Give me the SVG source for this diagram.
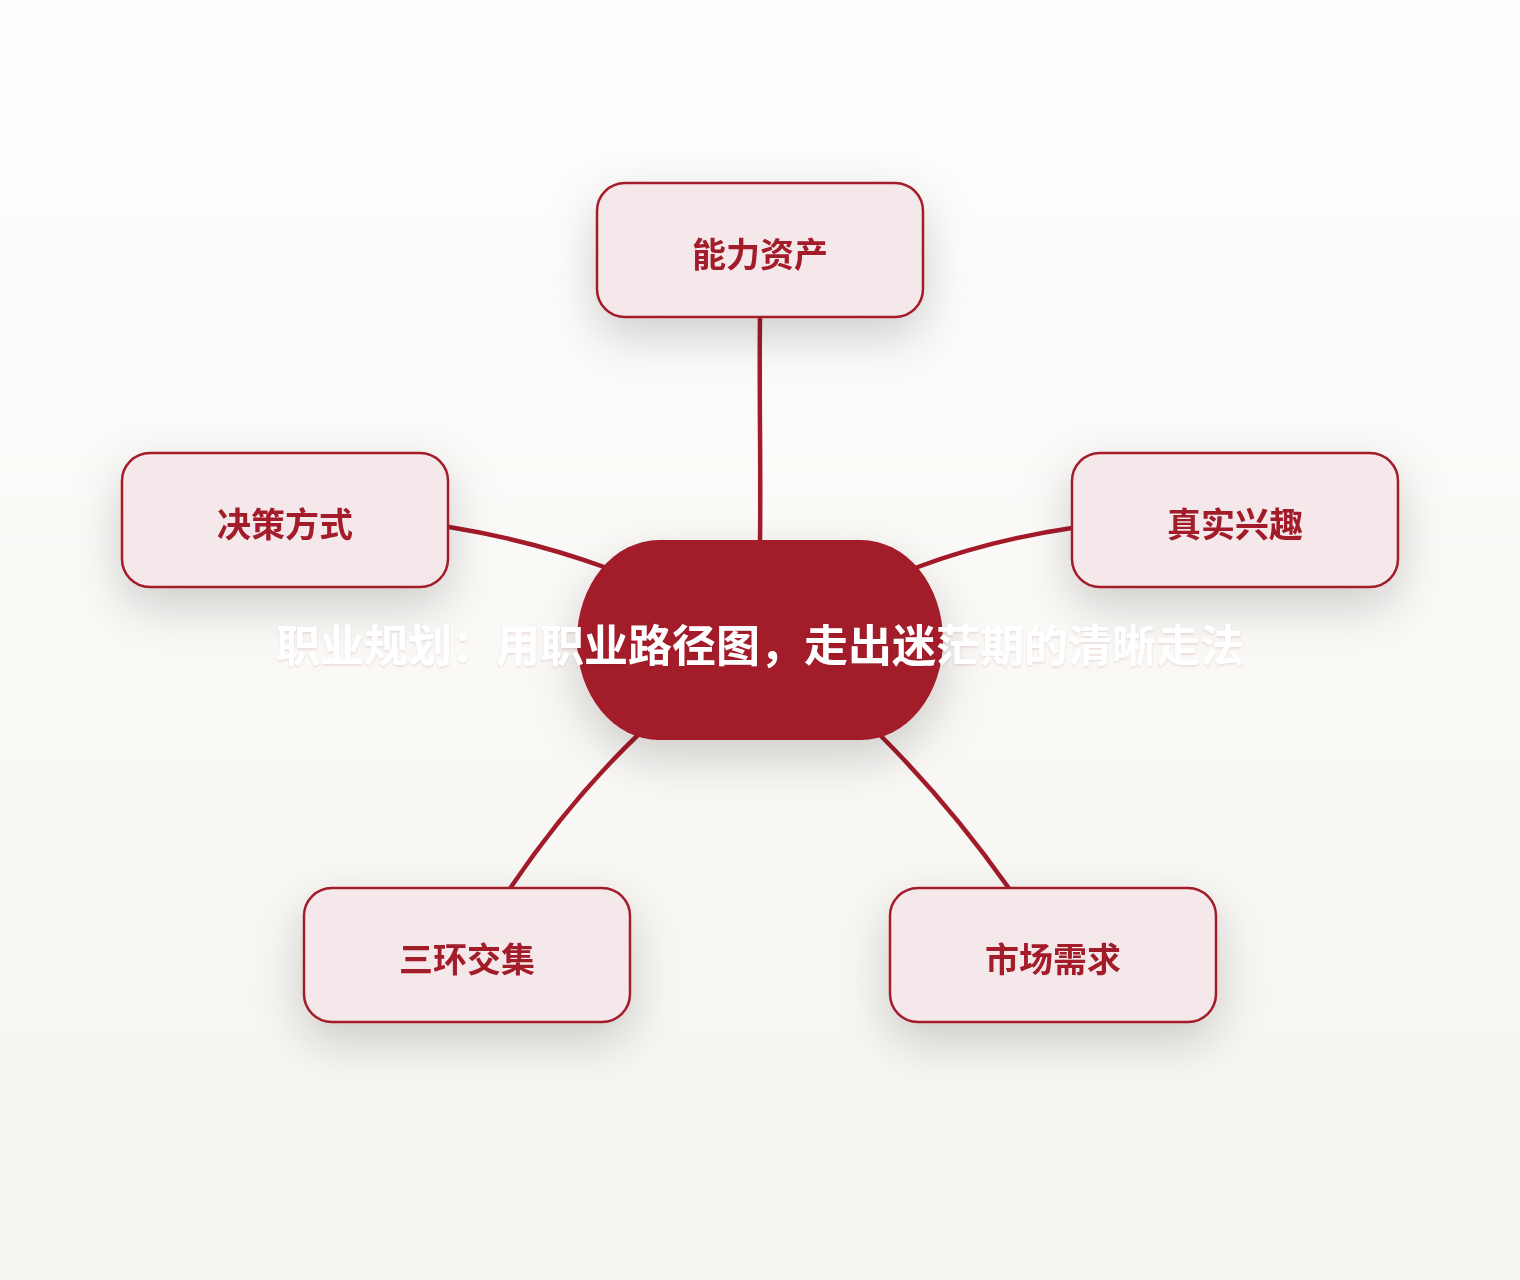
<svg xmlns="http://www.w3.org/2000/svg" width="1520" height="1280" viewBox="0 0 1520 1280">
  <defs>
    <linearGradient id="bg" x1="0" y1="0" x2="0" y2="1">
      <stop offset="0" stop-color="#FEFEFD"/>
      <stop offset="1" stop-color="#F6F4F0"/>
    </linearGradient>
    <filter id="shadow" x="-50%" y="-70%" width="200%" height="260%">
      <feGaussianBlur in="SourceAlpha" stdDeviation="24"/>
      <feOffset dx="0" dy="18" result="b"/>
      <feFlood flood-color="#000000" flood-opacity="0.18"/>
      <feComposite in2="b" operator="in"/>
      <feMerge>
        <feMergeNode/>
        <feMergeNode in="SourceGraphic"/>
      </feMerge>
    </filter>
    <filter id="tshadow" x="-5%" y="-20%" width="110%" height="150%">
      <feDropShadow dx="0" dy="1.5" stdDeviation="1" flood-color="#7a1020" flood-opacity="0.12"/>
    </filter>
  </defs>
  <style>
    .edge { fill: none; stroke: #A31A2A; stroke-width: 4.5; stroke-linecap: round; }
    .box { fill: #F4E8EA; stroke: #A31A2A; stroke-width: 2.5; }
    .label { font-family: "Noto Sans CJK SC", "Noto Sans", sans-serif; font-weight: 700; font-size: 34px; fill: #A31A2A; text-anchor: middle; dominant-baseline: central; }
    .title { font-family: "Noto Sans CJK SC", "Noto Sans", sans-serif; font-weight: 700; font-size: 44px; fill: #FFFFFF; text-anchor: middle; dominant-baseline: central; }
  </style>
  <rect x="0" y="0" width="1520" height="1280" fill="url(#bg)"/>

  <g id="connectors">
    <path class="edge" d="M760,318 C759,390 761,470 760,542"/>
    <path class="edge" d="M449,527 Q530,540 607,568"/>
    <path class="edge" d="M1072,528 Q990,540 915,568"/>
    <path class="edge" d="M640,733 Q570,800 511,887"/>
    <path class="edge" d="M880,735 Q950,805 1008,887"/>
  </g>

  <g id="center" filter="url(#shadow)">
    <rect x="577" y="540" width="366" height="200" rx="82" ry="100" fill="#A31A2A"/>
  </g>

  <g id="node-ability" filter="url(#shadow)">
    <rect class="box" x="597" y="183" width="326" height="134" rx="28"/>
    <text class="label" x="760" y="252">能力资产</text>
  </g>
  <g id="node-decision" filter="url(#shadow)">
    <rect class="box" x="122" y="453" width="326" height="134" rx="28"/>
    <text class="label" x="285" y="522">决策方式</text>
  </g>
  <g id="node-interest" filter="url(#shadow)">
    <rect class="box" x="1072" y="453" width="326" height="134" rx="28"/>
    <text class="label" x="1235" y="522">真实兴趣</text>
  </g>
  <g id="node-rings" filter="url(#shadow)">
    <rect class="box" x="304" y="888" width="326" height="134" rx="28"/>
    <text class="label" x="467" y="957">三环交集</text>
  </g>
  <g id="node-market" filter="url(#shadow)">
    <rect class="box" x="890" y="888" width="326" height="134" rx="28"/>
    <text class="label" x="1053" y="957">市场需求</text>
  </g>

  <g id="title">
    <text class="title" x="760" y="643" filter="url(#tshadow)">职业规划：用职业路径图，走出迷茫期的清晰走法</text>
  </g>
</svg>
